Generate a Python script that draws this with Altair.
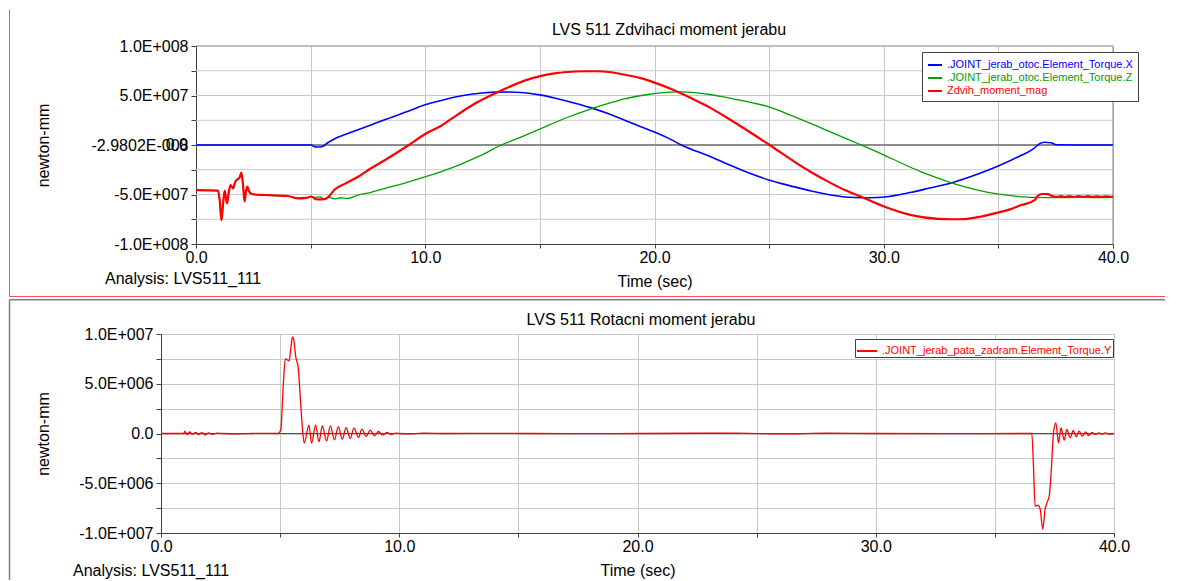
import altair as alt
import pandas as pd

FONT = "Liberation Sans"

# ---------------- text ----------------
top_title = "LVS 511 Zdvihaci moment jerabu"
bottom_title = "LVS 511 Rotacni moment jerabu"
y_title = "newton-mm"
x_title = "Time (sec)"
top_analysis = "Analysis:  LVS511_111"
bottom_analysis = "Analysis: LVS511_111"

# ---------------- axes ----------------
x_ticks = [0, 5, 10, 15, 20, 25, 30, 35, 40]
top_y_ticks = [-1e8, -7.5e7, -5e7, -2.5e7, 0, 2.5e7, 5e7, 7.5e7, 1e8]
top_y_labels = ["-1.0E+008", "", "-5.0E+007", "", "-2.9802E-008", "", "5.0E+007", "", "1.0E+008"]
top_y_grid = [-7.5e7, -5e7, -2.5e7, 2.5e7, 5e7, 7.5e7]
top_zero_overlay = "0.0"
bot_y_ticks = [-1e7, -7.5e6, -5e6, -2.5e6, 0, 2.5e6, 5e6, 7.5e6, 1e7]
bot_y_labels = ["-1.0E+007", "", "-5.0E+006", "", "0.0", "", "5.0E+006", "", "1.0E+007"]

# ---------------- series (time s, value in 1E6 newton-mm) ----------------
top_series = [".JOINT_jerab_otoc.Element_Torque.X", ".JOINT_jerab_otoc.Element_Torque.Z", "Zdvih_moment_mag"]
top_colors = ["#0000ff", "#00a000", "#ff0000"]
bottom_series = [".JOINT_jerab_pata_zadram.Element_Torque.Y"]
bottom_colors = ["#ff0000"]

# start phase shared by Torque.Z and Zdvih_moment_mag (the two traces overlap there)
start_points = [(0, -45.6), (0.96, -46), (1.03, -55), (1.11, -76), (1.18, -60), (1.25, -46),
                (1.35, -59), (1.43, -48), (1.51, -40.6), (1.62, -44), (1.7, -38), (1.76, -35.6),
                (1.9, -33), (1.98, -28), (2.05, -40), (2.12, -57), (2.18, -47), (2.24, -42),
                (2.3, -46), (2.39, -49), (2.56, -50), (3.0, -50.5), (3.43, -51), (4.0, -51.5),
                (4.45, -54), (4.8, -53.5), (5.03, -52)]

blue_points = [(0, 0), (5.03, 0), (5.15, -1.5), (5.25, -2.0), (5.4, -2.0), (5.54, -1.3), (5.7, 1.5),
               (6.05, 6.4), (6.5, 10.5), (7.07, 15.4), (7.6, 20), (8.23, 25.5), (9.25, 34.0),
               (10.02, 40.8), (10.7, 45), (11.43, 49.0), (12.0, 51.2), (12.59, 52.7), (13.1, 53.4),
               (13.61, 53.6), (14.33, 52.8), (15.06, 50.4), (16.08, 45), (17.24, 37.5), (18.0, 31.5),
               (18.7, 25), (19.4, 18.5), (20.0, 13.1), (20.73, 5.4), (21.17, 0), (21.8, -6),
               (22.48, -12.1), (23.2, -19.5), (23.93, -26.5), (25.02, -35.6), (26.11, -42.3),
               (26.84, -46.5), (27.57, -50.0), (28.2, -52.2), (28.73, -53.0), (29.4, -53.3),
               (30.04, -52.6), (31.2, -47.8), (32.0, -43.5), (32.95, -38.3), (34.11, -29.4),
               (35.02, -21.0), (36.0, -10.4), (36.51, -4.2), (36.8, 1.3), (37.01, 2.8), (37.3, 2.3),
               (37.52, 0.2), (38.5, 0), (40, 0)]

green_points = [(5.18, -53), (5.4, -52.3), (5.6, -54.2), (5.8, -53), (6.05, -54.5), (6.3, -53.3),
                (6.6, -54), (7.07, -50.7), (7.6, -48), (8.23, -44), (9.1, -38.5), (10.02, -32),
                (10.7, -26.8), (11.43, -20.5), (12.4, -10.8), (13.32, 0), (14.2, 8.3), (15.03, 16.4),
                (16.1, 27), (17.24, 36.6), (18.0, 42), (18.7, 46.6), (19.7, 51), (20.73, 53.4),
                (21.2, 53.6), (21.75, 52.9), (22.4, 51), (23.21, 47.7), (24.1, 43.5), (25.02, 38.3),
                (25.9, 30.5), (26.84, 21.5), (27.9, 11), (29.02, 0), (30.04, -10.4), (30.8, -18.7),
                (31.64, -27.2), (32.3, -33), (32.95, -38.3), (34.0, -45), (35.02, -49.7),
                (35.8, -51.8), (36.58, -53), (37.5, -53.2), (38.5, -53), (39.5, -53.2), (40, -53)]

red_points = [(5.2, -54.5), (5.32, -55), (5.5, -55), (5.69, -54), (5.85, -50.5), (6.05, -45),
              (6.5, -39), (7.07, -32), (7.6, -24), (8.23, -15.4), (9.25, -0.5), (10.02, 11.4),
              (10.7, 19.5), (11.43, 31), (12.15, 41.6), (13.32, 55), (14.33, 65), (15.06, 69.8),
              (15.79, 72.8), (16.4, 74), (16.95, 74.5), (17.53, 74.5), (18.1, 73.5), (18.7, 71),
              (19.4, 67.5), (20.0, 63), (20.73, 56.5), (21.17, 52), (21.8, 45), (22.48, 37),
              (23.2, 27), (23.93, 16.4), (25.02, 0), (26.11, -17), (26.84, -27.5), (27.57, -37),
              (28.3, -45.5), (29.02, -52.3), (30.04, -62.4), (31.2, -70.8), (32.36, -74.6),
              (33.0, -75), (33.53, -74.8), (34.2, -72.5), (34.83, -69.1), (35.5, -65), (36.0, -60.7),
              (36.58, -55.7), (36.72, -51.3), (36.9, -49.5), (37.16, -49.7), (37.35, -51.5),
              (37.52, -52.3), (37.74, -51.7), (37.9, -52.5), (38.1, -51.5), (38.3, -52.5),
              (38.5, -51.6), (38.7, -52.4), (38.9, -51.7), (39.1, -52.3), (39.3, -51.8),
              (39.5, -52.4), (39.7, -51.9), (39.9, -52.3), (40, -52)]

torque_y_points = [(0, 0), (0.95, 0), (1.0, 0.2), (1.1, -0.12), (1.2, 0.15), (1.32, -0.08),
                   (1.45, 0.1), (1.58, -0.1), (1.72, 0.08), (1.85, -0.15), (2.0, 0.05), (2.15, -0.08),
                   (2.35, 0.03), (2.6, 0), (3.2, -0.03), (3.8, 0), (4.4, 0.02), (4.92, 0), (5.03, 0.4),
                   (5.13, 4.8), (5.22, 7.5), (5.3, 7.4), (5.38, 7.3), (5.45, 8.6), (5.52, 9.7),
                   (5.58, 9.3), (5.65, 7.8), (5.76, 6.6), (5.86, 3.1), (5.94, 0.4), (6.01, -0.97),
                   (6.21, 0.84), (6.32, -0.97), (6.49, 0.84), (6.63, -0.84), (6.77, 0.77),
                   (6.95, -0.74), (7.11, 0.77), (7.28, -0.64), (7.44, 0.70), (7.61, -0.57),
                   (7.77, 0.60), (7.94, -0.5), (8.10, 0.54), (8.29, -0.4), (8.43, 0.44), (8.61, -0.3),
                   (8.78, 0.34), (8.96, -0.23), (9.13, 0.2), (9.30, -0.17), (9.48, 0.1), (9.66, -0.1),
                   (9.83, 0.03), (10.0, 0), (10.4, -0.04), (11.0, 0.03), (12.0, 0), (14.0, 0.02),
                   (17.0, -0.02), (20.0, 0), (24.0, 0.03), (26.0, -0.04), (28.0, 0.03), (30.0, 0),
                   (33.0, -0.02), (36.0, 0), (36.55, 0), (36.62, -3.3), (36.69, -7.3), (36.8, -7.2),
                   (36.9, -7.6), (37.01, -9.6), (37.11, -7.6), (37.18, -7.0), (37.28, -6.3),
                   (37.36, -4.0), (37.46, 0.07), (37.56, 1.07), (37.67, -0.94), (37.78, 0.57),
                   (37.91, -0.67), (38.02, 0.4), (38.16, -0.44), (38.29, 0.3), (38.41, -0.33),
                   (38.54, 0.23), (38.67, -0.27), (38.81, 0.17), (38.93, -0.2), (39.08, 0.1),
                   (39.22, -0.1), (39.36, 0.07), (39.5, -0.07), (39.64, 0.05), (39.78, -0.05),
                   (40.0, 0)]


def frame(points, name):
    return pd.DataFrame({"t": [p[0] for p in points],
                         "v": [p[1] * 1e6 for p in points],
                         "series": name})


df_blue = frame(blue_points, top_series[0])
df_green = frame(start_points + green_points, top_series[1])
df_red = frame(start_points + red_points, top_series[2])
df_bot = frame(torque_y_points, bottom_series[0])


def label_expr(ticks, labels):
    parts = [f"datum.value == {v} ? '{lab}'" for v, lab in zip(ticks, labels)]
    return " : ".join(parts) + " : ''"


def legend_color_expr(names, colors):
    parts = [f"datum.value == '{n}' ? '{c}'" for n, c in zip(names, colors)]
    return " : ".join(parts) + " : 'black'"


def text_layer(label, x, y, align="left", size=16):
    return alt.Chart(pd.DataFrame({"lab": [label]})).mark_text(
        align=align, baseline="middle", fontSize=size, color="black").encode(
        x=alt.value(x), y=alt.value(y), text="lab:N")


dummy = pd.DataFrame({"a": [0]})
x_label_expr = "datum.value % 10 == 0 ? format(datum.value, '.1f') : ''"
W = 953
FRAME_X = -151.5

# ---------------- top panel (plot area drawn in the x range 35..952 of a 953 wide group) ----------------
TH = 198
TX0, TX1 = 35, 952
tx = alt.X("t:Q", scale=alt.Scale(domain=[0, 40], nice=False, zero=False, range=[TX0, TX1]),
           axis=alt.Axis(values=x_ticks, title=x_title, labelExpr=x_label_expr,
                         grid=True, tickSize=4, labelPadding=1, titlePadding=8,
                         labelFlush=False, labelOverlap=False))
ty = alt.Y("v:Q", scale=alt.Scale(domain=[-1e8, 1e8], nice=False, zero=False),
           axis=alt.Axis(values=top_y_ticks, labelExpr=label_expr(top_y_ticks, top_y_labels),
                         title=y_title, grid=False, tickSize=5, labelPadding=3, offset=-TX0,
                         labelFlush=False, labelOverlap=False,
                         titleX=-147.6, titleY=TH / 2, titleAngle=270,
                         titleBaseline="alphabetic", titleAlign="center"))
top_color = alt.Color("series:N",
                      scale=alt.Scale(domain=top_series, range=top_colors),
                      legend=alt.Legend(title=None, orient="none", legendX=761, legendY=6,
                                        symbolType="stroke", symbolStrokeWidth=2, symbolSize=196,
                                        labelFontSize=11, labelLimit=400, padding=5, rowPadding=0,
                                        strokeColor="#404040", fillColor="white",
                                        labelColor={"expr": legend_color_expr(top_series, top_colors)}))


def hrule(values, color, width):
    d = pd.DataFrame({"v": values, "t": 0.0, "t2": 40.0})
    return alt.Chart(d).mark_rule(color=color, strokeWidth=width).encode(x=tx, x2="t2:Q", y=ty)


grid_top = hrule(top_y_grid, "#c8c8c8", 1)
zero_top = hrule([0.0], "#8c8c8c", 2)
border_top = hrule([1e8], "#808080", 1)
border_right = alt.Chart(pd.DataFrame({"t": [40.0], "v": [-1e8], "v2": [1e8]})).mark_rule(
    color="#808080", strokeWidth=1).encode(x=tx, y=ty, y2="v2:Q")
blue = alt.Chart(df_blue).mark_line(strokeWidth=1.6, interpolate="monotone").encode(x=tx, y=ty, color=top_color)
green = alt.Chart(df_green).mark_line(strokeWidth=1.3, interpolate="monotone").encode(x=tx, y=ty, color=top_color)
red = alt.Chart(df_red).mark_line(strokeWidth=2.2, interpolate="monotone").encode(x=tx, y=ty, color=top_color)
zero_lab = alt.Chart(pd.DataFrame({"v": [0.0], "lab": [top_zero_overlay]})).mark_text(
    align="right", baseline="middle", fontSize=16, color="black").encode(
    x=alt.value(TX0 - 8), y=ty, text="lab:N")
frame_v = alt.Chart(dummy).mark_rule(color="#ff5050", strokeWidth=1).encode(
    x=alt.value(FRAME_X), y=alt.value(-36.5), y2=alt.value(250.5))
frame_h = alt.Chart(dummy).mark_rule(color="#ff5050", strokeWidth=1).encode(
    x=alt.value(FRAME_X), x2=alt.value(1004), y=alt.value(250.5))

top = alt.layer(grid_top, zero_top, border_top, border_right, blue, green, red, zero_lab,
                text_layer(top_title, 508, -16.5, align="center"),
                text_layer(top_analysis, -56, 233.3),
                frame_v, frame_h).properties(
    width=W, height=TH, view=alt.ViewBackground(stroke="transparent"))

# ---------------- bottom panel ----------------
BH = 199
bx = alt.X("t:Q", scale=alt.Scale(domain=[0, 40], nice=False, zero=False),
           axis=alt.Axis(values=x_ticks, title=x_title, labelExpr=x_label_expr,
                         grid=True, tickSize=4, labelPadding=1, titlePadding=8,
                         labelFlush=False, labelOverlap=False))
by = alt.Y("v:Q", scale=alt.Scale(domain=[-1e7, 1e7], nice=False, zero=False),
           axis=alt.Axis(values=bot_y_ticks, labelExpr=label_expr(bot_y_ticks, bot_y_labels),
                         title=y_title, grid=True, tickSize=5, labelPadding=3,
                         labelFlush=False, labelOverlap=False,
                         titleX=-113, titleY=BH / 2, titleAngle=270,
                         titleBaseline="alphabetic", titleAlign="center"))
bot_color = alt.Color("series:N",
                      scale=alt.Scale(domain=bottom_series, range=bottom_colors),
                      legend=alt.Legend(title=None, orient="none", legendX=694, legendY=5,
                                        symbolType="stroke", symbolStrokeWidth=2, symbolSize=400,
                                        labelFontSize=11, labelLimit=400, padding=1, rowPadding=0,
                                        strokeColor="#404040", fillColor="white",
                                        labelColor={"expr": legend_color_expr(bottom_series, bottom_colors)}))

zero_bot = alt.Chart(pd.DataFrame({"v": [0.0]})).mark_rule(color="#505050", strokeWidth=1).encode(y=by)
torque = alt.Chart(df_bot).mark_line(strokeWidth=1.3, interpolate="monotone").encode(x=bx, y=by, color=bot_color)
bframe_v = alt.Chart(dummy).mark_rule(color="#7f7f7f", strokeWidth=1.5).encode(
    x=alt.value(FRAME_X), y=alt.value(-34.3), y2=alt.value(246))
bframe_h = alt.Chart(dummy).mark_rule(color="#7f7f7f", strokeWidth=1.5).encode(
    x=alt.value(FRAME_X), x2=alt.value(1004), y=alt.value(-34.3))

bottom = alt.layer(zero_bot, torque,
                   text_layer(bottom_title, 480, -14, align="center"),
                   text_layer(bottom_analysis, -88, 236.5),
                   bframe_v, bframe_h).properties(width=W, height=BH)

chart = alt.vconcat(top, bottom, spacing=0).resolve_scale(
    color="independent", x="independent", y="independent").resolve_legend(
    color="independent").properties(
    padding={"left": 0, "top": 0, "right": 0, "bottom": 0}, background="white"
).configure(font=FONT).configure_axis(
    labelFont=FONT, titleFont=FONT, labelFontSize=16, titleFontSize=16,
    labelColor="black", titleColor="black", titleFontWeight="normal",
    gridColor="#c8c8c8", gridWidth=1, tickColor="#404040", domainColor="#404040"
).configure_legend(labelFont=FONT).configure_view(stroke="#808080", strokeWidth=1)

chart.save("out.html", embed_options={"renderer": "svg", "actions": False})
